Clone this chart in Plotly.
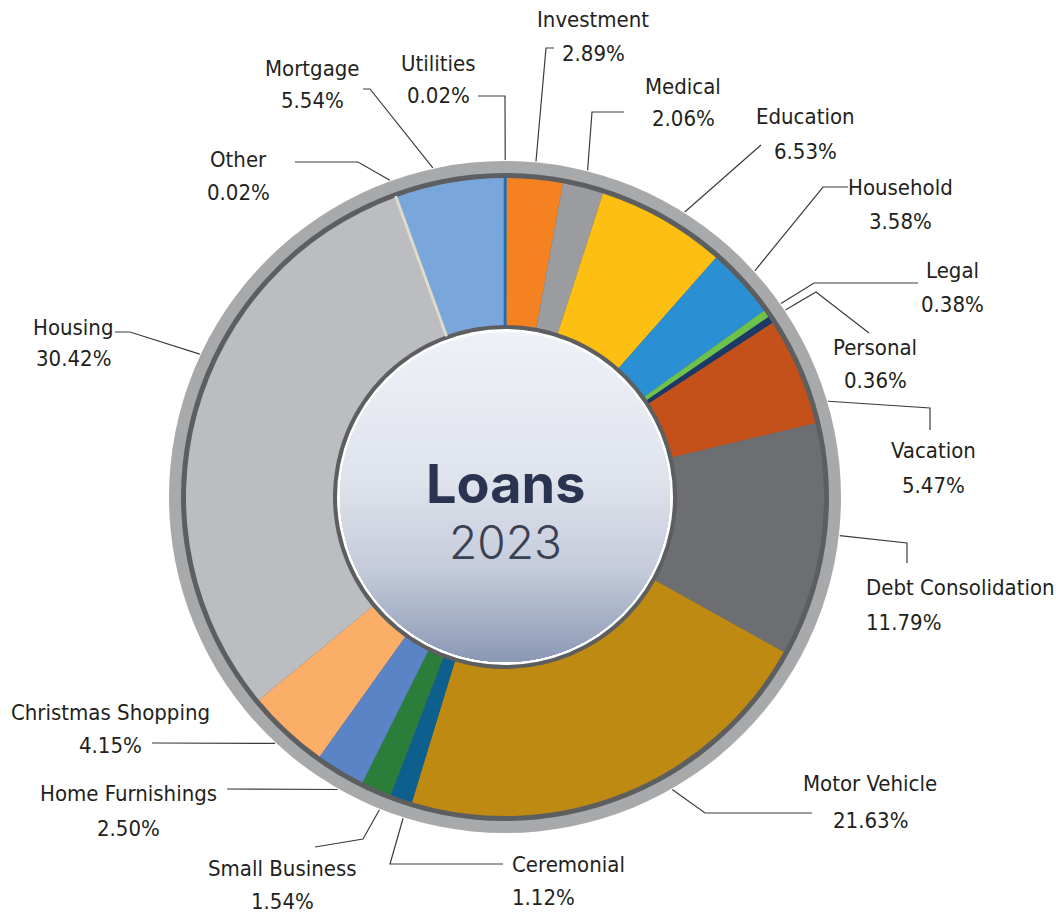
import math
import plotly.graph_objects as go

# ---- data -------------------------------------------------------------
categories = [
    "Utilities", "Investment", "Medical", "Education", "Household", "Legal",
    "Personal", "Vacation", "Debt Consolidation", "Motor Vehicle", "Ceremonial",
    "Small Business", "Home Furnishings", "Christmas Shopping", "Housing",
    "Other", "Mortgage",
]
shares = [0.02, 2.89, 2.06, 6.53, 3.58, 0.38, 0.36, 5.47, 11.79, 21.63,
          1.12, 1.54, 2.50, 4.15, 30.42, 0.02, 5.54]
slice_colors = [
    "#1f6db3", "#f58220", "#9a9c9f", "#fdbf12", "#2b8fd3", "#6cc24a",
    "#1b3866", "#c4501a", "#6d6e71", "#bf8a12", "#0d5f8e", "#2b7d3a",
    "#5a84c6", "#fbae68", "#bcbdc0", "#dedcc6", "#7aa7db",
]
center_title = "Loans"
center_year = "2023"

# ---- label layout (pixel positions on a 1056 x 914 canvas) -------------
# x, y of the name line, y of the percentage line, horizontal anchor
label_pos = {
    "Utilities": (438, 63, 95, "center"),
    "Investment": (593, 19, 53, "center"),
    "Medical": (683, 86, 118, "center"),
    "Education": (805, 116, 151, "center"),
    "Household": (900, 187, 221, "center"),
    "Legal": (952, 270, 304, "center"),
    "Personal": (875, 347, 380, "center"),
    "Vacation": (933, 450, 485, "center"),
    "Debt Consolidation": (864, 587, 622, "left"),
    "Motor Vehicle": (870, 783, 820, "center"),
    "Ceremonial": (510, 864, 897, "left"),
    "Small Business": (282, 868, 901, "center"),
    "Home Furnishings": (128, 793, 828, "center"),
    "Christmas Shopping": (110, 712, 745, "center"),
    "Housing": (73, 327, 358, "center"),
    "Other": (238, 159, 192, "center"),
    "Mortgage": (312, 68, 100, "center"),
}
# where along each slice the leader leaves the rim (0 = slice start, 1 = end)
leader_frac = {
    "Mortgage": 0.38, "Housing": 0.59, "Education": 0.61, "Vacation": 0.84,
    "Debt Consolidation": 0.47, "Motor Vehicle": 0.40, "Home Furnishings": 0.36,
    "Ceremonial": 0.16, "Small Business": 0.16,
}
# bend points of each leader after it leaves the rim
leader_bends = {
    "Utilities": [(505, 96), (478, 96)],
    "Investment": [(546, 48), (554, 48)],
    "Medical": [(592, 112), (624, 112)],
    "Education": [(761, 145)],
    "Household": [(823, 187), (848, 187)],
    "Legal": [(814, 283), (918, 283)],
    "Personal": [(816, 292), (869, 333)],
    "Vacation": [(930, 408), (930, 430)],
    "Debt Consolidation": [(907, 543), (907, 563)],
    "Motor Vehicle": [(705, 813), (812, 813)],
    "Ceremonial": [(390, 864), (503, 864)],
    "Small Business": [(363, 839), (315, 847)],
    "Home Furnishings": [(227, 789)],
    "Christmas Shopping": [(152, 743)],
    "Housing": [(130, 332), (115, 332)],
    "Other": [(358, 162), (295, 162)],
    "Mortgage": [(370, 89), (363, 89)],
}

# ---- geometry ------------------------------------------------------------
W, H = 1056, 914
CX, CY = 505, 497
R_OUTER = 336      # light grey rim
R_RIM_DARK = 324   # dark line inside the rim
R_PIE = 319        # coloured ring
R_HOLE = 172       # inner edge of coloured ring
R_WHITE = 168      # white edge of the centre disc
R_DISC = 165       # gradient centre disc
R_ANCHOR = 337

LABEL_FONT = "DejaVu Sans Condensed, Liberation Sans Narrow, sans-serif"
LABEL_SIZE = 22
TEXT_COLOR = "#231f20"

fig = go.Figure()

# coloured ring
pie_domain = dict(
    x=[(CX - R_PIE) / W, (CX + R_PIE) / W],
    y=[(H - CY - R_PIE) / H, (H - CY + R_PIE) / H],
)
fig.add_trace(go.Pie(
    labels=categories, values=shares, sort=False, direction="clockwise",
    rotation=0, hole=R_HOLE / R_PIE, domain=pie_domain,
    marker=dict(colors=slice_colors, line=dict(width=0)),
    textinfo="none", hoverinfo="label+percent", showlegend=False,
))
# hairline slices get a stroke so they stay visible
thin = [v < 0.1 for v in shares]
fig.add_trace(go.Pie(
    labels=categories, values=shares, sort=False, direction="clockwise",
    rotation=0, hole=R_HOLE / R_PIE, domain=pie_domain,
    marker=dict(
        colors=[c if t else "rgba(0,0,0,0)" for c, t in zip(slice_colors, thin)],
        line=dict(color=[c if t else "rgba(0,0,0,0)" for c, t in zip(slice_colors, thin)],
                  width=[2.6 if t else 0 for t in thin]),
    ),
    textinfo="none", hoverinfo="skip", showlegend=False,
))

# leader lines, starting on the rim at each slice's angle
total = sum(shares)
lx, ly = [], []
cum = 0.0
for name, v in zip(categories, shares):
    a0 = cum / total * 2 * math.pi
    a1 = (cum + v) / total * 2 * math.pi
    cum += v
    ang = a0 + leader_frac.get(name, 0.5) * (a1 - a0)
    ax = CX + R_ANCHOR * math.sin(ang)
    ay = CY - R_ANCHOR * math.cos(ang)
    pts = [(ax, ay)] + leader_bends[name]
    lx += [p[0] for p in pts] + [None]
    ly += [p[1] for p in pts] + [None]
fig.add_trace(go.Scatter(
    x=lx, y=ly, mode="lines", line=dict(color="#3b3b3b", width=1.2),
    hoverinfo="skip", showlegend=False,
))

# labels: category name with its share underneath
for name, v in zip(categories, shares):
    x, y_name, y_pct, anchor = label_pos[name]
    for txt, yy in ((name, y_name), (f"{v:.2f}%", y_pct)):
        fig.add_annotation(
            x=x, y=yy, xref="x", yref="y", showarrow=False, text=txt,
            xanchor=anchor, yanchor="middle",
            font=dict(family=LABEL_FONT, size=LABEL_SIZE, color=TEXT_COLOR),
        )


def circle(r, fill, layer):
    return dict(type="circle", xref="x", yref="y", layer=layer,
                x0=CX - r, x1=CX + r, y0=CY - r, y1=CY + r,
                fillcolor=fill, line=dict(width=0))


shapes = [
    circle(R_OUTER, "#a8a9ab", "below"),
    circle(R_RIM_DARK, "#5d5e60", "below"),
    circle(R_WHITE, "#ffffff", "above"),
]

# vertical gradient for the centre disc, built from stacked circle segments
stops = [(0.0, (238, 241, 247)), (0.45, (223, 227, 236)),
         (0.72, (196, 203, 218)), (1.0, (139, 152, 180))]


def grad(t):
    for (t0, c0), (t1, c1) in zip(stops[:-1], stops[1:]):
        if t <= t1:
            f = (t - t0) / (t1 - t0)
            return "rgb(%d,%d,%d)" % tuple(round(a + (b - a) * f) for a, b in zip(c0, c1))
    return "rgb(%d,%d,%d)" % stops[-1][1]


N_BANDS = 70
for k in range(N_BANDS):
    yk = CY - R_DISC + 2 * R_DISC * k / N_BANDS
    phi0 = math.acos(max(-1.0, min(1.0, (CY - yk) / R_DISC)))
    steps = 72
    pts = []
    for j in range(steps + 1):
        phi = phi0 + (2 * math.pi - 2 * phi0) * j / steps
        pts.append((CX + R_DISC * math.sin(phi), CY - R_DISC * math.cos(phi)))
    path = "M " + " L ".join(f"{px:.2f},{py:.2f}" for px, py in pts) + " Z"
    shapes.append(dict(type="path", xref="x", yref="y", layer="above", path=path,
                       fillcolor=grad((k + 0.5) / N_BANDS), line=dict(width=0)))

# centre title
fig.add_annotation(x=CX, y=483, xref="x", yref="y", showarrow=False,
                   text=f"<b>{center_title}</b>",
                   font=dict(family="Inter, Lato, sans-serif", size=54, color="#2a3350"))
fig.add_annotation(x=CX, y=542, xref="x", yref="y", showarrow=False,
                   text=center_year,
                   font=dict(family="Inter, Lato, sans-serif", size=46, color="#3a4152",
                             weight=300))

fig.update_layout(
    width=W, height=H, autosize=False,
    margin=dict(l=0, r=0, t=0, b=0, pad=0),
    paper_bgcolor="white", plot_bgcolor="white",
    xaxis=dict(range=[0, W], visible=False, fixedrange=True),
    yaxis=dict(range=[H, 0], visible=False, fixedrange=True),
    shapes=shapes,
    showlegend=False,
)

fig.write_html("out.html")
